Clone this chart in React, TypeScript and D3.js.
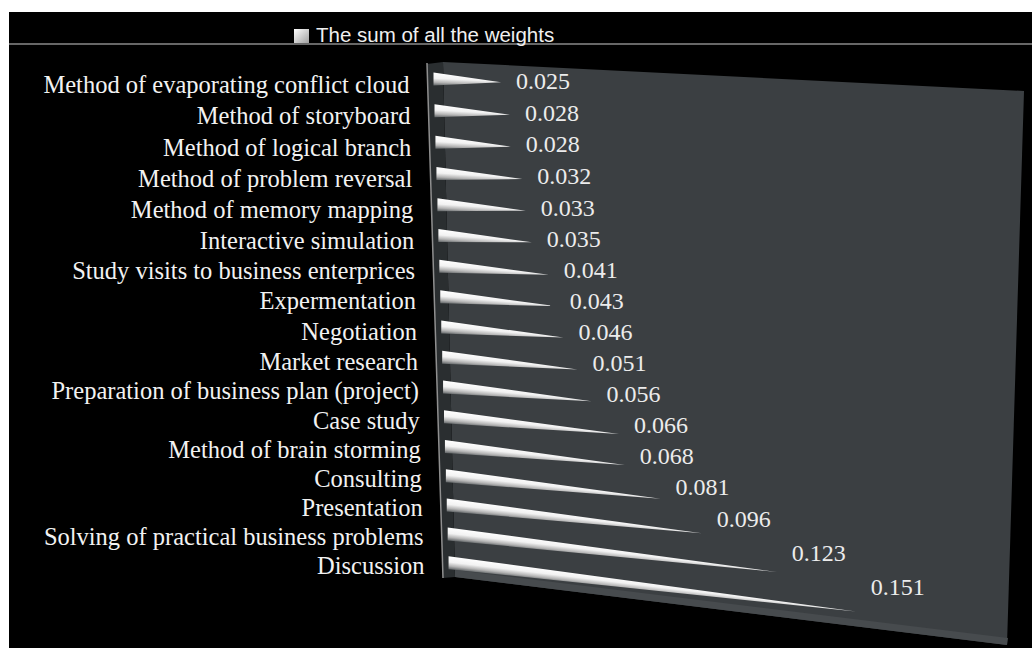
import React from 'react';
import * as d3 from 'd3';

const categories: string[] = [
  'Method of evaporating conflict cloud',
  'Method of storyboard',
  'Method of logical branch',
  'Method of problem reversal',
  'Method of memory mapping',
  'Interactive simulation',
  'Study visits to business enterprices',
  'Expermentation',
  'Negotiation',
  'Market research',
  'Preparation of business plan (project)',
  'Case study',
  'Method of brain storming',
  'Consulting',
  'Presentation',
  'Solving of practical business problems',
  'Discussion',
];

const values: number[] = [
  0.025, 0.028, 0.028, 0.032, 0.033, 0.035, 0.041, 0.043, 0.046, 0.051, 0.056,
  0.066, 0.068, 0.081, 0.096, 0.123, 0.151,
];

const seriesName = 'The sum of all the weights';
const valueDomain: [number, number] = [0, 0.203];

const W = 1032;
const H = 648;

type Pt = [number, number];

// projective map of the unit square (u along value axis, v along category axis) onto a quad
function makeHomography(p0: Pt, p1: Pt, p2: Pt, p3: Pt) {
  const [x0, y0] = p0, [x1, y1] = p1, [x2, y2] = p2, [x3, y3] = p3;
  const dx1 = x1 - x2, dx2 = x3 - x2, dy1 = y1 - y2, dy2 = y3 - y2;
  const sx = x0 - x1 + x2 - x3, sy = y0 - y1 + y2 - y3;
  const det = dx1 * dy2 - dx2 * dy1;
  const g = (sx * dy2 - dx2 * sy) / det;
  const h = (dx1 * sy - sx * dy1) / det;
  const a = x1 - x0 + g * x1, b = x3 - x0 + h * x3, c = x0;
  const d = y1 - y0 + g * y1, e = y3 - y0 + h * y3, f = y0;
  return (u: number, v: number): Pt => {
    const w = g * u + h * v + 1;
    return [(a * u + b * v + c) / w, (d * u + e * v + f) / w];
  };
}

export default function App() {
  const uScale = d3.scaleLinear().domain(valueDomain).range([0, 1]);
  const vScale = d3.scaleBand<string>().domain(categories).range([0, 1]);
  const proj = makeHomography([433, 63], [1024, 91], [1007, 645], [449, 577]);
  const fmt = d3.format('.3f');
  const r = 6.5;

  const wallOuterX = d3.scaleLinear().domain([0, 1]).range([427, 443]);

  const bars = categories.map((cat, i) => {
    const v = (vScale(cat) as number) + vScale.bandwidth() / 2;
    const base = proj(0, v);
    const tip = proj(uScale(values[i]), v);
    const dx = tip[0] - base[0], dy = tip[1] - base[1];
    const len = Math.hypot(dx, dy);
    const n: Pt = [-dy / len, dx / len];
    return { cat, v, base, tip, n, value: values[i], i };
  });

  const backWall: Pt[] = [[443, 62], [1024, 91], [1007, 645], [455, 577]];
  const sideWall: Pt[] = [[427, 64], [443, 62], [455, 577], [443, 578]];
  const bottomBand: Pt[] = [[455, 577], [1007, 645], [1008, 638], [455, 570]];
  const poly = (pts: Pt[]) => pts.map((p) => p.join(',')).join(' ');

  return (
    <svg
      width={W}
      height={H}
      style={{ position: 'absolute', left: 0, top: 0, display: 'block' }}
    >
      <defs>
        <linearGradient id="legendSq" x1="0" y1="0" x2="1" y2="1">
          <stop offset="0" stopColor="#ffffff" />
          <stop offset="1" stopColor="#a0a0a0" />
        </linearGradient>
        {bars.map((b) => (
          <linearGradient
            key={b.i}
            id={`cone${b.i}`}
            gradientUnits="userSpaceOnUse"
            x1={b.base[0] - b.n[0] * r}
            y1={b.base[1] - b.n[1] * r}
            x2={b.base[0] + b.n[0] * r}
            y2={b.base[1] + b.n[1] * r}
          >
            <stop offset="0" stopColor="#ffffff" />
            <stop offset="0.45" stopColor="#f2f2f2" />
            <stop offset="0.75" stopColor="#b4b4b4" />
            <stop offset="1" stopColor="#5e6264" />
          </linearGradient>
        ))}
      </defs>
      <rect x={0} y={0} width={W} height={H} fill="#ffffff" />
      <rect x={9} y={12} width={W - 9} height={H - 12} fill="#000000" />

      {/* legend */}
      <line x1={9} x2={W} y1={44} y2={44} stroke="#8a8a8a" strokeWidth={1.5} />
      <rect x={294} y={29} width={15} height={14} fill="url(#legendSq)" />
      <text
        x={316}
        y={42}
        fill="#f0f0f0"
        fontFamily="Liberation Sans, Arial, sans-serif"
        fontSize={20.5}
      >
        {seriesName}
      </text>

      {/* walls */}
      <polygon points={poly(backWall)} fill="#3b3f42" />
      <polygon points={poly(sideWall)} fill="#2a2e30" />
      <polygon points={poly(bottomBand)} fill="#474b4e" />
      <line
        x1={wallOuterX(0)}
        y1={63}
        x2={wallOuterX(1)}
        y2={578}
        stroke="#8f8f8f"
        strokeWidth={1.5}
      />

      {/* cones */}
      {bars.map((b) => (
        <polygon
          key={b.i}
          points={poly([
            [b.base[0], b.base[1] - r],
            b.tip,
            [b.base[0], b.base[1] + r],
          ])}
          fill={`url(#cone${b.i})`}
        />
      ))}

      {/* value labels */}
      {bars.map((b) => (
        <text
          key={b.i}
          x={b.tip[0] + 15}
          y={(b.base[1] + b.tip[1]) / 2 + 8}
          fill="#ececec"
          fontFamily="Liberation Serif, Times New Roman, serif"
          fontSize={24}
        >
          {fmt(b.value)}
        </text>
      ))}

      {/* category labels */}
      {bars.map((b) => (
        <text
          key={b.i}
          x={wallOuterX(b.v) - 18}
          y={b.base[1] + 14 - 3 * b.v}
          textAnchor="end"
          fill="#f2f2f2"
          fontFamily="Liberation Serif, Times New Roman, serif"
          fontSize={24.5}
        >
          {b.cat}
        </text>
      ))}
    </svg>
  );
}
